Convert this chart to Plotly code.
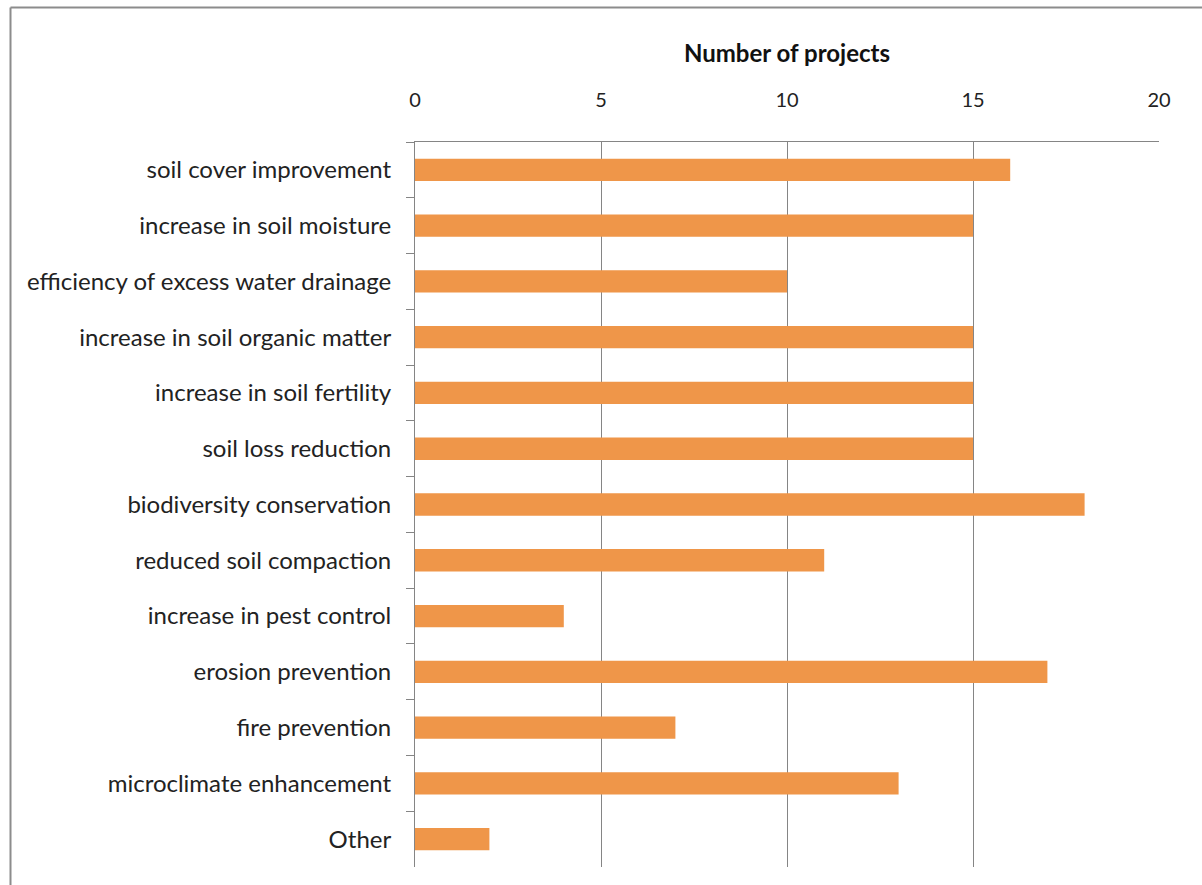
import plotly.graph_objects as go

categories = [
    "soil cover improvement",
    "increase in soil moisture",
    "efficiency of excess water drainage",
    "increase in soil organic matter",
    "increase in soil fertility",
    "soil loss reduction",
    "biodiversity conservation",
    "reduced soil compaction",
    "increase in pest control",
    "erosion prevention",
    "fire prevention",
    "microclimate enhancement",
    "Other",
]
values = [16, 15, 10, 15, 15, 15, 18, 11, 4, 17, 7, 13, 2]
x_ticks = [0, 5, 10, 15, 20]

W, H = 1202, 885
L, R, T, B = 415, 43, 142, 18
pw, ph = W - L - R, H - T - B

def px_x(p):
    return (p - L) / pw

def px_y(p):
    return 1 - (p - T) / ph

FONT = "Lato"

fig = go.Figure(go.Bar(
    x=values, y=categories, orientation="h",
    marker=dict(color="#EF9649", line=dict(width=0)),
))

fig.update_layout(
    width=W, height=H,
    margin=dict(l=L, r=R, t=T, b=B, pad=0),
    paper_bgcolor="white", plot_bgcolor="white",
    bargap=0.6,
    showlegend=False,
    font=dict(family=FONT, size=20, color="#222222"),
    xaxis=dict(
        side="top", range=[0, 20], tickvals=x_ticks,
        showgrid=True, gridcolor="#858585", gridwidth=1,
        showline=True, linecolor="#858585", linewidth=1,
        zeroline=False, ticks="", ticklabelstandoff=26,
        tickfont=dict(family=FONT, size=20, color="#222222"),
        title=dict(text="<b>Number of projects</b>", standoff=17,
                   font=dict(family=FONT, size=24, color="#111111")),
    ),
    yaxis=dict(
        type="category", autorange="reversed",
        showline=True, linecolor="#858585", linewidth=1,
        ticks="outside", ticklen=8, tickcolor="#858585", tickson="boundaries",
        showgrid=False, zeroline=False, ticklabelstandoff=18,
        tickfont=dict(family=FONT, size=24, color="#222222"),
    ),
    shapes=[
        dict(type="line", xref="paper", yref="paper",
             x0=px_x(10.5), x1=px_x(W + 5), y0=px_y(7.5), y1=px_y(7.5),
             line=dict(color="#8c8c8c", width=2)),
        dict(type="line", xref="paper", yref="paper",
             x0=px_x(10.5), x1=px_x(10.5), y0=px_y(7.5), y1=px_y(H + 5),
             line=dict(color="#8c8c8c", width=2)),
    ],
)

fig.write_html(
    "out.html",
    config={"displayModeBar": False},
    post_script="document.body.style.margin='0px';document.body.style.overflow='hidden';",
)
